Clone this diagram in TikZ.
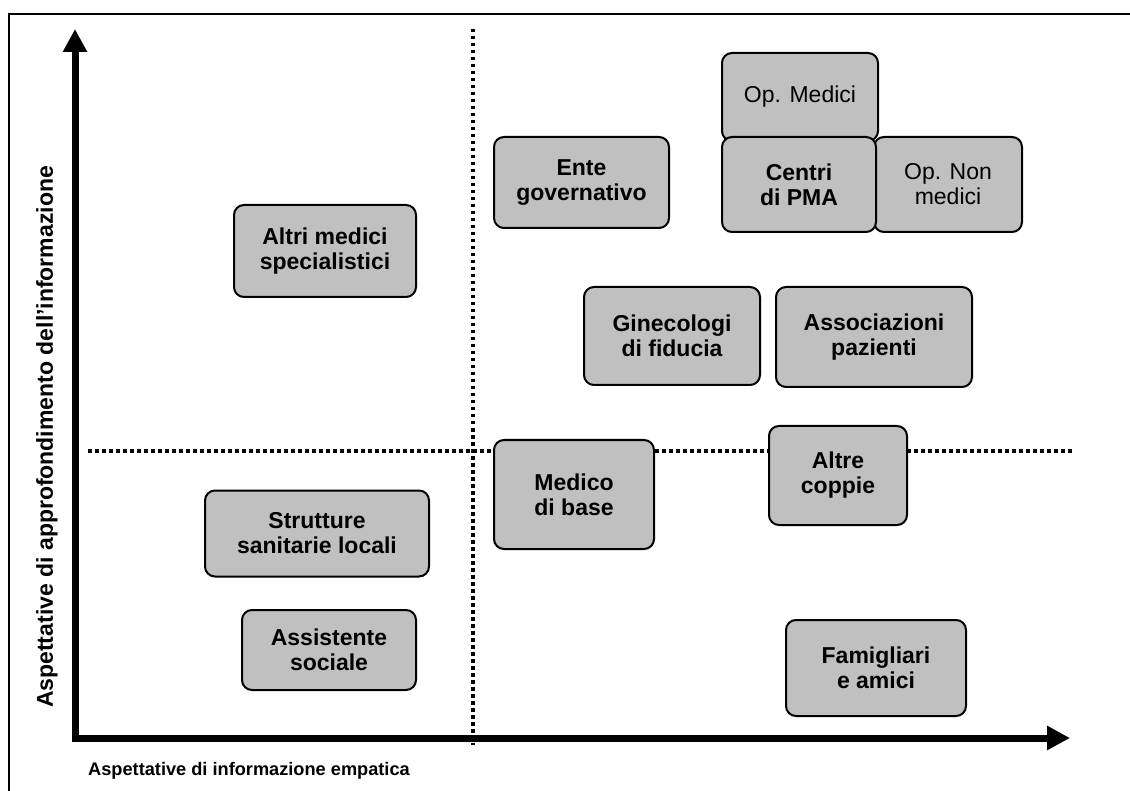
\documentclass[tikz,border=0pt]{standalone}
\usepackage{fontspec}
\setmainfont{Liberation Sans}
\usetikzlibrary{arrows.meta}
\definecolor{boxgray}{HTML}{C0C0C0}
\tikzset{
  box/.style={draw, line width=2pt, rounded corners=10pt, fill=boxgray,
    align=center, font=\fontsize{23}{25}\selectfont\bfseries, inner sep=0pt},
  opbox/.style={box, font=\fontsize{23}{25}\selectfont},
  axis/.style={line width=7pt, line join=miter,
    {Triangle[length=23pt,width=23pt]}-{Triangle[length=23pt,width=23pt]}},
  divider/.style={line width=3.5pt, dash pattern=on 3.5pt off 3.5pt}
}
\begin{document}
\begin{tikzpicture}[x=1pt,y=-1pt]
\useasboundingbox (0,0) rectangle (1130,791);
% frame
\draw[line width=2pt] (9,820) -- (9,14) -- (1150,14);
% quadrant lines
\draw[divider] (473,29) -- (473,745);
\draw[divider] (88,451) -- (1075,451);
% axes
\coordinate (ytip) at (75,29);
\coordinate (orig) at (75,738);
\coordinate (xtip) at (1070,738);
\draw[axis] (ytip) -- (orig) -- (xtip);
\node[rotate=90, font=\fontsize{23}{26}\selectfont\bfseries] (ylab) at (47,437)
  {Aspettative di approfondimento dell’informazione};
\node[anchor=west, font=\fontsize{18.2}{21}\selectfont\bfseries, inner sep=0pt] (xlab) at (88,771)
  {Aspettative di informazione empatica};
% stakeholders
\node[opbox, minimum width=156, minimum height=88] (opmed) at (800,97) {Op. Medici};
\node[opbox, minimum width=148, minimum height=95] (opnon) at (948,184.5) {Op. Non\\medici};
\node[box, minimum width=154, minimum height=95] (centri) at (799,184.5) {Centri\\di PMA};
\node[box, minimum width=175, minimum height=91] (ente) at (581.5,182.5) {Ente\\governativo};
\node[box, minimum width=182, minimum height=92] (altri) at (325,251) {Altri medici\\specialistici};
\node[box, minimum width=176, minimum height=98] (gineco) at (672,336) {Ginecologi\\di fiducia};
\node[box, minimum width=196, minimum height=100] (assoc) at (874,337) {Associazioni\\pazienti};
\node[box, minimum width=138, minimum height=99] (altre) at (838,475.5) {Altre\\coppie};
\node[box, minimum width=160, minimum height=109] (medico) at (574,494.5) {Medico\\di base};
\node[box, minimum width=224, minimum height=86] (strutt) at (317,533.5) {Strutture\\sanitarie locali};
\node[box, minimum width=174, minimum height=80] (assist) at (329,650) {Assistente\\sociale};
\node[box, minimum width=180, minimum height=96] (famig) at (876,668) {Famigliari\\e amici};
\end{tikzpicture}
\end{document}
